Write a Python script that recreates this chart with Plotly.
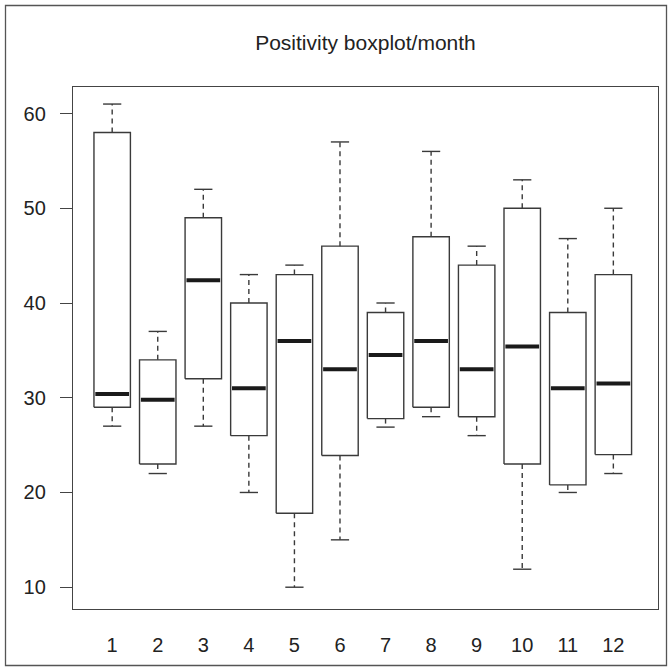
import plotly.graph_objects as go

# ---- data ----
months = [1, 2, 3, 4, 5, 6, 7, 8, 9, 10, 11, 12]
month_labels = ["1", "2", "3", "4", "5", "6", "7", "8", "9", "10", "11", "12"]
lower_whisker = [27, 22, 27, 20, 10, 15, 26.9, 28, 26, 11.9, 20, 22]
q1 = [29, 23, 32, 26, 17.8, 23.9, 27.8, 29, 28, 23, 20.8, 24]
median = [30.4, 29.8, 42.4, 31, 36, 33, 34.5, 36, 33, 35.4, 31, 31.5]
q3 = [58, 34, 49, 40, 43, 46, 39, 47, 44, 50, 39, 43]
upper_whisker = [61, 37, 52, 43, 44, 57, 40, 56, 46, 53, 46.8, 50]
y_ticks = [10, 20, 30, 40, 50, 60]

# ---- style ----
BOX_HALF = 0.4
CAP_HALF = 0.2
LINE = "#3a3a3a"
W, H = 672, 671
ML, MR, MT, MB = 73, 14, 87, 62

box_x, box_y = [], []
med_x, med_y = [], []
wh_x, wh_y = [], []
cap_x, cap_y = [], []
for m, lo, a, md, b, hi in zip(months, lower_whisker, q1, median, q3, upper_whisker):
    box_x += [m - BOX_HALF, m + BOX_HALF, m + BOX_HALF, m - BOX_HALF, m - BOX_HALF, None]
    box_y += [a, a, b, b, a, None]
    med_x += [m - BOX_HALF + 0.03, m + BOX_HALF - 0.03, None]
    med_y += [md, md, None]
    wh_x += [m, m, None, m, m, None]
    wh_y += [b, hi, None, a, lo, None]
    cap_x += [m - CAP_HALF, m + CAP_HALF, None, m - CAP_HALF, m + CAP_HALF, None]
    cap_y += [hi, hi, None, lo, lo, None]

fig = go.Figure()
fig.add_trace(go.Scatter(x=wh_x, y=wh_y, mode="lines",
                         line=dict(color=LINE, width=1.4, dash="5px,4px"),
                         hoverinfo="skip", showlegend=False))
fig.add_trace(go.Scatter(x=cap_x, y=cap_y, mode="lines",
                         line=dict(color=LINE, width=1.4),
                         hoverinfo="skip", showlegend=False))
fig.add_trace(go.Scatter(x=box_x, y=box_y, mode="lines",
                         line=dict(color=LINE, width=1.4),
                         hoverinfo="skip", showlegend=False))
fig.add_trace(go.Scatter(x=med_x, y=med_y, mode="lines",
                         line=dict(color="#1a1a1a", width=4),
                         hoverinfo="skip", showlegend=False))

pw = W - ML - MR
ph = H - MT - MB
# outer frame of the figure (in paper coordinates)
fx0, fx1, fy0, fy1 = 5.5, 666.5, 5.5, 665.5
fig.add_shape(type="rect", xref="paper", yref="paper",
              x0=(fx0 - ML) / pw, x1=(fx1 - ML) / pw,
              y0=(H - MB - fy1) / ph, y1=(H - MB - fy0) / ph,
              line=dict(color="#555555", width=1.3), fillcolor="rgba(0,0,0,0)")

fig.update_layout(
    width=W, height=H,
    margin=dict(l=ML, r=MR, t=MT, b=MB),
    paper_bgcolor="white", plot_bgcolor="white",
    font=dict(family="Liberation Sans, Arial, sans-serif", color="#222222"),
    title=dict(text="Positivity boxplot/month", x=(ML + pw / 2) / W, xanchor="center",
               y=1 - 43 / H, yanchor="middle", yref="container",
               font=dict(size=21, color="#222222")),
    xaxis=dict(range=[0.14, 12.98], tickvals=months, ticktext=month_labels,
               showgrid=False, zeroline=False, showline=True, mirror=True,
               linecolor="#444444", linewidth=1.3, ticks="", ticklabelstandoff=18,
               tickfont=dict(size=20, color="#222222")),
    yaxis=dict(range=[7.7, 62.8], tickvals=y_ticks,
               showgrid=False, zeroline=False, showline=True, mirror=True,
               linecolor="#444444", linewidth=1.3, ticks="outside", ticklen=12,
               tickcolor="#444444", tickwidth=1.3, ticklabelstandoff=10,
               tickfont=dict(size=20, color="#222222")),
)

fig.write_html("out.html")
